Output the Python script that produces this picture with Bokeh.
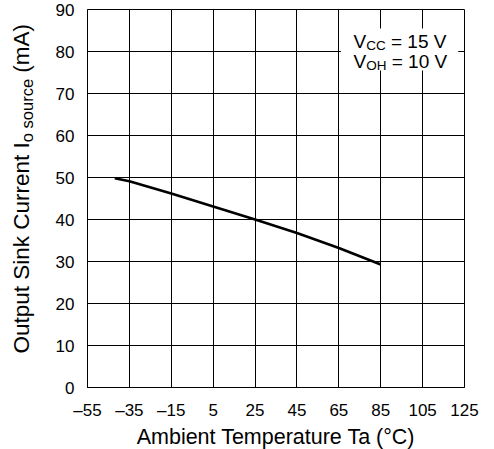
from bokeh.plotting import figure
from bokeh.models import Range1d, Label, BoxAnnotation, FixedTicker
from bokeh.layouts import row
from bokeh.core.properties import value
from bokeh.embed import file_html
from bokeh.resources import INLINE

# ---- data ----
temperature = [-42, -35, -15, 5, 25, 45, 65, 85]
current = [49.8, 49.1, 46.2, 43.1, 40.0, 36.8, 33.2, 29.3]
x_ticks = [-55, -35, -15, 5, 25, 45, 65, 85, 105, 125]
y_ticks = [0, 10, 20, 30, 40, 50, 60, 70, 80, 90]
x_label = "Ambient Temperature Ta (\u00b0C)"
y_label_parts = ["Output Sink Current I", "o source", "\u00a0(mA)"]
cond1 = ["V", "CC", "\u00a0=\u00a015\u00a0V"]
cond2 = ["V", "OH", "\u00a0=\u00a010\u00a0V"]

FONT = "Liberation Sans"
W = {' ': 278, '\u00a0': 278, '(': 333, ')': 333, '=': 584, '.': 278, '\u00b0': 400,
     'A': 667, 'C': 722, 'H': 722, 'I': 278, 'O': 778, 'S': 667, 'T': 611, 'V': 667,
     'a': 556, 'b': 556, 'c': 500, 'e': 556, 'i': 222, 'k': 500, 'm': 833, 'n': 556,
     'o': 556, 'p': 556, 'r': 333, 's': 500, 't': 278, 'u': 556}
for d in "0123456789":
    W[d] = 556


def tw(s, size):
    return sum(W.get(ch, 556) for ch in s) * size / 1000.0


FW, FH = 377, 378          # frame size in px
TOP, BOTTOM = 9, 62
LEFT_PANEL = 44
yr = Range1d(0, 90)
PX_PER_MA = FH / 90.0

p = figure(frame_width=FW, frame_height=FH,
           x_range=Range1d(-55, 125), y_range=yr,
           output_backend="svg", toolbar_location=None,
           min_border_left=87 - LEFT_PANEL, min_border_right=30,
           min_border_top=TOP, min_border_bottom=BOTTOM)
p.background_fill_color = "white"
p.border_fill_color = "white"
p.outline_line_color = "black"
p.outline_line_width = 1

for ax in (p.xaxis[0], p.yaxis[0]):
    ax.major_tick_line_color = None
    ax.minor_tick_line_color = None
    ax.axis_line_color = "black"
    ax.major_label_text_font = FONT
    ax.major_label_text_font_size = "17px"
    ax.major_label_text_color = "black"
p.xaxis.major_label_standoff = 7
p.yaxis.major_label_standoff = 7

p.xaxis.ticker = FixedTicker(ticks=x_ticks)
p.yaxis.ticker = FixedTicker(ticks=y_ticks)
p.xaxis.major_label_overrides = {t: str(t).replace("-", "\u2013") for t in x_ticks}
p.xaxis.axis_label = x_label
p.xaxis.axis_label_text_font = FONT
p.xaxis.axis_label_text_font_size = "21.5px"
p.xaxis.axis_label_text_font_style = "normal"
p.xaxis.axis_label_text_color = "black"
p.xaxis.axis_label_standoff = 2

p.xgrid.ticker = FixedTicker(ticks=x_ticks)
p.ygrid.ticker = FixedTicker(ticks=y_ticks)
for g in (p.xgrid[0], p.ygrid[0]):
    g.grid_line_color = "black"
    g.grid_line_width = 1

p.line(temperature, current, line_color="black", line_width=2.6)

# condition box
p.add_layout(BoxAnnotation(left=66, right=122, bottom=75.5, top=85.5,
                           fill_color="white", fill_alpha=1, line_color=None))


def rich(parts, x_off, y_off, main, sub, shift):
    pos = 0.0
    for i, s in enumerate(parts):
        size = sub if i % 2 == 1 else main
        d = shift if i % 2 == 1 else 0
        p.add_layout(Label(x=-55, y=0, text=s, text_font=FONT,
                           x_offset=x_off + pos, y_offset=y_off - d,
                           text_font_size=f"{size}px", text_color="black",
                           text_baseline="alphabetic", text_align="left"))
        pos += tw(s, size)


rich(cond1, 266, 346, 19, 13.5, 4)
rich(cond2, 266, 326, 19, 13.5, 4)

# ---- y-axis title panel (rich text with subscript), same frame height ----
q = figure(frame_width=LEFT_PANEL, frame_height=FH,
           x_range=Range1d(0, LEFT_PANEL), y_range=yr,
           output_backend="svg", toolbar_location=None,
           x_axis_type=None, y_axis_type=None,
           min_border_left=0, min_border_right=0,
           min_border_top=TOP, min_border_bottom=BOTTOM)
q.outline_line_color = None
q.grid.visible = False
q.background_fill_color = "white"
q.border_fill_color = "white"

MAIN, SUB = 22.5, 16.5
base_x, start_px = 21, 34
pos = start_px
for i, s in enumerate(y_label_parts):
    size = SUB if i % 2 == 1 else MAIN
    d = 5 if i % 2 == 1 else 0
    q.text(x=[base_x + d], y=[pos / PX_PER_MA], text=[s], angle=1.5707963,
           text_font=value(FONT), text_font_size=value(f"{size}px"),
           text_color="black", text_baseline="alphabetic", text_align="left")
    pos += tw(s, size)

layout = row(q, p, spacing=0)
open("out.html", "w").write(file_html(layout, INLINE))
